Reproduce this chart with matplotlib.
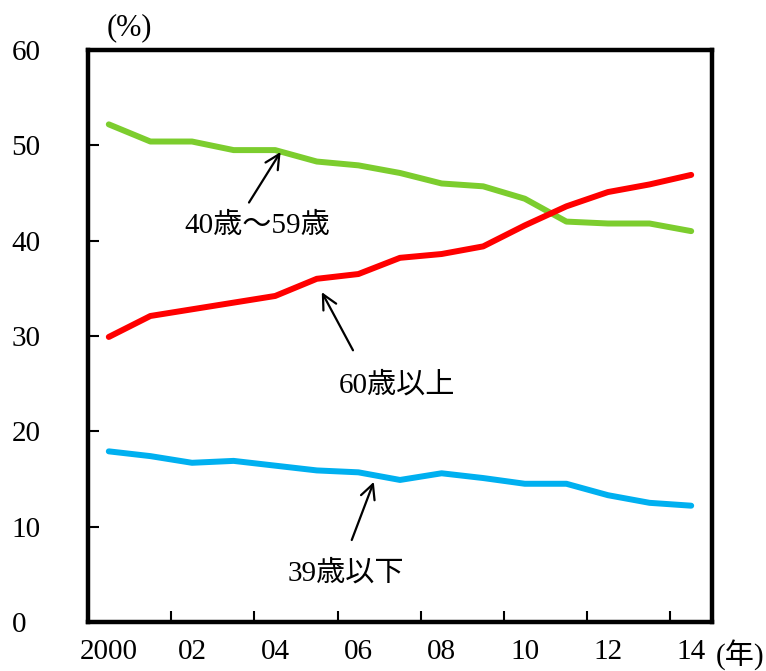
import matplotlib.pyplot as plt
import matplotlib.ticker as ticker

plt.rcParams['font.family'] = ['Liberation Serif', 'Noto Sans CJK JP']

years = list(range(2000, 2015))
year_labels = ['2000', '02', '04', '06', '08', '10', '12', '14']

# shares by age group (%)
age_40_59 = [52.2, 50.4, 50.4, 49.5, 49.5, 48.3, 47.9, 47.1, 46.0, 45.7, 44.4, 42.0, 41.8, 41.8, 41.0]
age_60_up = [29.9, 32.1, 32.8, 33.5, 34.2, 36.0, 36.5, 38.2, 38.6, 39.4, 41.6, 43.6, 45.1, 45.9, 46.9]
age_39_down = [17.9, 17.4, 16.7, 16.9, 16.4, 15.9, 15.7, 14.9, 15.6, 15.1, 14.5, 14.5, 13.3, 12.5, 12.2]

fig = plt.figure(figsize=(7.66, 6.71), dpi=100)
ax = fig.add_axes([88 / 766, 1 - 622 / 671, 624 / 766, 572 / 671])

x = list(range(len(years)))
ax.plot(x, age_40_59, color='#7ccd2e', lw=4.3, solid_capstyle='round')
ax.plot(x, age_60_up, color='#ff0000', lw=4.3, solid_capstyle='round')
ax.plot(x, age_39_down, color='#00b0f0', lw=4.3, solid_capstyle='round')

ax.set_xlim(-0.5, len(years) - 0.5)
ax.set_ylim(0, 60)

for s in ax.spines.values():
    s.set_linewidth(3.2)

# y axis
ax.yaxis.set_major_locator(ticker.MultipleLocator(10))
ax.tick_params(axis='y', direction='in', length=8, width=1.5, labelsize=21, pad=55)
for lbl in ax.get_yticklabels():
    lbl.set_horizontalalignment('left')

# x axis: tick marks at category boundaries, labels every two years
ax.xaxis.set_major_locator(ticker.FixedLocator([i + 1.5 for i in range(0, 14, 2)]))
ax.xaxis.set_major_formatter(ticker.NullFormatter())
ax.xaxis.set_minor_locator(ticker.FixedLocator(list(range(0, 15, 2))))
ax.xaxis.set_minor_formatter(ticker.FixedFormatter(year_labels))
ax.tick_params(axis='x', which='major', direction='in', length=8, width=1.5)
ax.tick_params(axis='x', which='minor', length=0, labelsize=21, pad=12)

fig.text(129 / 766, 1 - 28 / 671, '(%)', fontsize=22, ha='center', va='center')
fig.text(716 / 766, 1 - 655 / 671, '(年)', fontsize=21, ha='left', va='center')

arrow = dict(arrowstyle='->', color='black', lw=1.6, mutation_scale=26, shrinkA=0, shrinkB=0)
ax.annotate('', xy=(4.13, 49.3), xytext=(3.37, 44.0), arrowprops=arrow)
ax.text(3.56, 41.5, '40歳〜59歳', fontsize=21, ha='center', va='center')
ax.annotate('', xy=(5.12, 34.6), xytext=(5.87, 28.5), arrowprops=arrow)
ax.text(6.92, 24.8, '60歳以上', fontsize=21, ha='center', va='center')
ax.annotate('', xy=(6.37, 14.7), xytext=(5.84, 8.6), arrowprops=arrow)
ax.text(5.70, 5.1, '39歳以下', fontsize=21, ha='center', va='center')

fig.savefig('out.png', dpi=100)
